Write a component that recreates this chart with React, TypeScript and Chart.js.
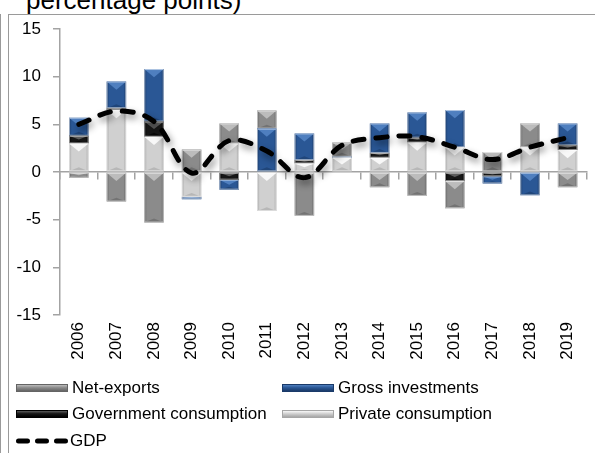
import React, { useEffect, useRef } from 'react';
import { Chart, registerables } from 'chart.js';

Chart.register(...registerables);

const years = ['2006', '2007', '2008', '2009', '2010', '2011', '2012', '2013', '2014', '2015', '2016', '2017', '2018', '2019'];
const privateConsumption = [3.0, 6.5, 3.7, -2.6, 3.0, -4.1, 0.9, 1.5, 1.5, 3.1, 2.6, 0, 2.6, 2.3];
const governmentConsumption = [0.8, 0.2, 1.6, 0, -0.8, 0, 0.35, 0, 0.5, 0.5, -0.95, -0.45, 0, 0.5];
const grossInvestments = [1.9, 2.8, 5.5, -0.25, -1.05, 4.55, 2.8, 0.1, 3.1, 2.65, 3.9, -0.75, -2.45, 2.3];
const netExports = [-0.6, -3.1, -5.3, 2.35, 2.1, 1.9, -4.6, 1.5, -1.6, -2.5, -2.85, 2.1, 2.5, -1.6];
const gdp = [5.0, 6.4, 5.3, -0.1, 3.3, 2.2, -0.6, 2.8, 3.6, 3.7, 2.6, 1.3, 2.6, 3.6];
const yTicks = { min: -15, max: 15, step: 5 };
const titleText = 'percentage points)';

const FONT = "'Liberation Sans', Arial, sans-serif";
const AXIS = '#a3a3a3';

type Pal = { base: string; light: string; dark: string };
const PAL: Record<string, Pal> = {
  net: { base: '#8b8b8b', light: '#bcbcbc', dark: '#646464' },
  gross: { base: '#2a5795', light: '#4f7fbf', dark: '#1a3a69' },
  gov: { base: '#171717', light: '#5c5c5c', dark: '#000000' },
  priv: { base: '#d0d0d0', light: '#f8f8f8', dark: '#a6a6a6' },
};

const datasetPalettes: Pal[] = [PAL.priv, PAL.gov, PAL.gross, PAL.net];

const bevelPlugin = {
  id: 'bevel',
  afterDatasetDraw(chart: any, args: any) {
    const meta = args.meta;
    if (meta.type !== 'bar') return;
    const pal = datasetPalettes[args.index];
    if (!pal) return;
    const ctx = chart.ctx as CanvasRenderingContext2D;
    meta.data.forEach((el: any) => {
      const { x, y, base, width } = el.getProps(['x', 'y', 'base', 'width'], true);
      const l = x - width / 2;
      const r = x + width / 2;
      const t = Math.min(y, base);
      const b = Math.max(y, base);
      const h = b - t;
      if (h < 0.5) return;
      ctx.save();
      ctx.beginPath();
      ctx.rect(l, t, width, h);
      ctx.clip();
      const g = ctx.createLinearGradient(l, 0, r, 0);
      g.addColorStop(0, pal.dark);
      g.addColorStop(0.14, pal.base);
      g.addColorStop(0.86, pal.base);
      g.addColorStop(1, pal.dark);
      ctx.fillStyle = g;
      ctx.fillRect(l, t, width, h);
      const d = Math.min(width * 0.42, h * 0.5);
      ctx.fillStyle = pal.light;
      ctx.beginPath();
      ctx.moveTo(l, t);
      ctx.lineTo(r, t);
      ctx.lineTo(x, t + d);
      ctx.closePath();
      ctx.fill();
      const d2 = Math.min(width * 0.2, h * 0.3);
      ctx.globalAlpha = 0.6;
      ctx.fillStyle = pal.dark;
      ctx.beginPath();
      ctx.moveTo(l, b);
      ctx.lineTo(r, b);
      ctx.lineTo(x, b - d2);
      ctx.closePath();
      ctx.fill();
      ctx.restore();
      ctx.save();
      ctx.strokeStyle = 'rgba(255,255,255,0.55)';
      ctx.lineWidth = 1;
      ctx.strokeRect(l + 0.5, t + 0.5, width - 1, Math.max(h - 1, 0));
      ctx.restore();
    });
  },
};

const shadowPlugin = {
  id: 'lineShadow',
  beforeDatasetDraw(chart: any, args: any) {
    if (args.meta.type !== 'line') return;
    const c = chart.ctx as CanvasRenderingContext2D;
    c.save();
    c.shadowColor = 'rgba(0,0,0,0.45)';
    c.shadowBlur = 7;
    c.shadowOffsetX = 2;
    c.shadowOffsetY = 4;
  },
  afterDatasetDraw(chart: any, args: any) {
    if (args.meta.type !== 'line') return;
    chart.ctx.restore();
  },
};

const legendItems = [
  { label: 'Net-exports', pal: PAL.net, left: 16, top: 388 },
  { label: 'Gross investments', pal: PAL.gross, left: 282, top: 388 },
  { label: 'Government consumption', pal: PAL.gov, left: 16, top: 414 },
  { label: 'Private consumption', pal: PAL.priv, left: 282, top: 414 },
];

export default function App() {
  const ref = useRef<HTMLCanvasElement | null>(null);

  useEffect(() => {
    if (!ref.current) return;
    Chart.defaults.font.family = FONT;
    const chart = new Chart(ref.current, {
      type: 'bar',
      data: {
        labels: years,
        datasets: [
          { type: 'bar', label: 'Private consumption', data: privateConsumption, backgroundColor: PAL.priv.base, xAxisID: 'x', yAxisID: 'y' },
          { type: 'bar', label: 'Government consumption', data: governmentConsumption, backgroundColor: PAL.gov.base, xAxisID: 'x', yAxisID: 'y' },
          { type: 'bar', label: 'Gross investments', data: grossInvestments, backgroundColor: PAL.gross.base, xAxisID: 'x', yAxisID: 'y' },
          { type: 'bar', label: 'Net-exports', data: netExports, backgroundColor: PAL.net.base, xAxisID: 'x', yAxisID: 'y' },
          {
            type: 'line',
            label: 'GDP',
            data: gdp,
            order: -1,
            borderColor: '#000',
            borderWidth: 5,
            borderDash: [11, 12],
            borderCapStyle: 'round',
            tension: 0.35,
            pointRadius: 0,
            fill: false,
            xAxisID: 'x',
            yAxisID: 'y',
          } as any,
        ],
      },
      options: {
        animation: false,
        responsive: true,
        maintainAspectRatio: false,
        layout: { padding: { top: 29, left: 8, right: 0, bottom: 0 } },
        datasets: { bar: { categoryPercentage: 0.52, barPercentage: 1 } },
        plugins: { legend: { display: false }, tooltip: { enabled: false }, title: { display: false } },
        scales: {
          x: {
            type: 'category',
            stacked: true,
            offset: true,
            grid: { display: false, drawTicks: false },
            border: { display: false },
            ticks: { minRotation: 90, maxRotation: 90, autoSkip: false, padding: 7, color: '#000', font: { family: FONT, size: 17 } },
            afterFit: (s: any) => { s.height = 138; },
          },
          x2: {
            type: 'category',
            position: { y: 0 },
            offset: true,
            grid: { offset: true, drawOnChartArea: false, tickLength: 7, color: AXIS, lineWidth: 1.5 },
            border: { color: AXIS, width: 1.5 },
            ticks: { display: false },
          },
          y: {
            stacked: true,
            min: yTicks.min,
            max: yTicks.max,
            ticks: { stepSize: yTicks.step, padding: 12, color: '#000', font: { family: FONT, size: 17 } },
            grid: { drawOnChartArea: false, tickLength: 7, color: AXIS, lineWidth: 1.5 },
            border: { color: AXIS, width: 1.5 },
            afterFit: (s: any) => { s.width = 52; },
          },
        } as any,
      },
      plugins: [bevelPlugin, shadowPlugin],
    } as any);
    return () => chart.destroy();
  }, []);

  return (
    <div style={{ position: 'fixed', left: 0, top: 0, width: 595, height: 453, overflow: 'hidden', background: '#fff', fontFamily: FONT }}>
      <div style={{ position: 'absolute', left: 0, top: 14, width: 1, height: 439, background: '#9a9a9a' }} />
      <div style={{ position: 'absolute', left: 8, top: 14, width: 1, height: 439, background: '#9a9a9a' }} />
      <div style={{ position: 'absolute', left: 8, top: 14, width: 587, height: 1, background: '#9a9a9a' }} />
      <div style={{ position: 'absolute', left: 26, top: -13.5, fontSize: 26, lineHeight: '26px', color: '#000', whiteSpace: 'nowrap' }}>{titleText}</div>
      <div style={{ position: 'absolute', left: 0, top: 0, width: 595, height: 453 }}>
        <canvas ref={ref} />
      </div>
      {legendItems.map((it) => (
        <div key={it.label} style={{ position: 'absolute', left: it.left, top: it.top - 10, height: 20, display: 'flex', alignItems: 'center', fontSize: 17, color: '#000', whiteSpace: 'nowrap' }}>
          <div style={{ width: 52, height: 8, boxSizing: 'border-box', border: `1px solid ${it.pal.dark}`, background: `linear-gradient(to bottom, ${it.pal.light} 0%, ${it.pal.base} 45%, ${it.pal.dark} 100%)`, marginRight: 4 }} />
          <span>{it.label}</span>
        </div>
      ))}
      <div style={{ position: 'absolute', left: 16, top: 431, height: 20, display: 'flex', alignItems: 'center', fontSize: 17, color: '#000', whiteSpace: 'nowrap' }}>
        <svg width={54} height={10} style={{ marginRight: 0 }}>
          <line x1={2.5} y1={5} x2={52} y2={5} stroke="#000" strokeWidth={5} strokeLinecap="round" strokeDasharray="9 10" />
        </svg>
        <span>GDP</span>
      </div>
    </div>
  );
}
